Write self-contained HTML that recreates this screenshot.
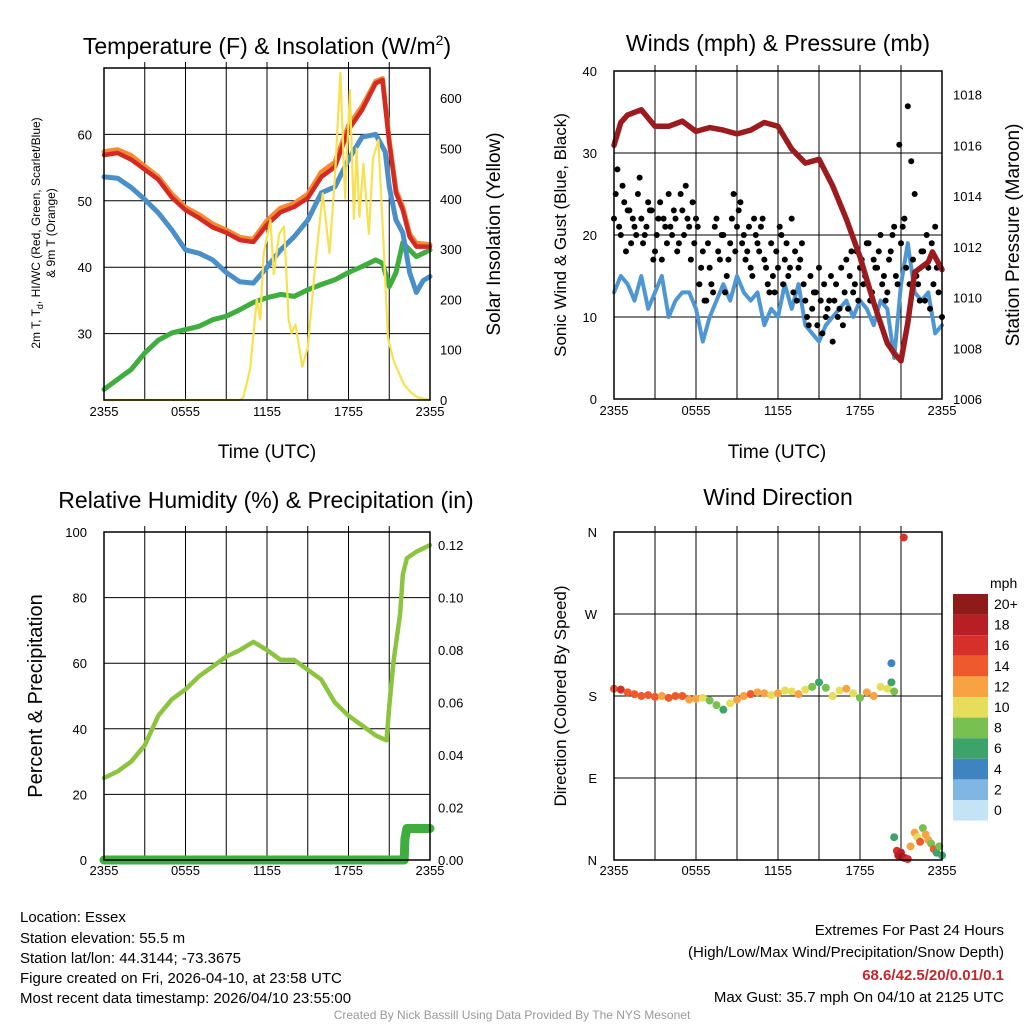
<!DOCTYPE html>
<html><head><meta charset="utf-8"><style>
body{margin:0;background:#fff;}
svg{display:block;font-family:"Liberation Sans",sans-serif;}
</style></head><body>
<svg id="svg" width="1024" height="1024" viewBox="0 0 1024 1024" xmlns="http://www.w3.org/2000/svg">
<g id="g"></g>
<text x="267" y="54" font-size="23" text-anchor="middle">Temperature (F) &amp; Insolation (W/m<tspan dy="-9" font-size="14">2</tspan><tspan dy="9">)</tspan></text>
<text x="778" y="51" font-size="23" text-anchor="middle">Winds (mph) &amp; Pressure (mb)</text>
<text x="266" y="508" font-size="23" text-anchor="middle">Relative Humidity (%) &amp; Precipitation (in)</text>
<text x="778" y="505" font-size="23" text-anchor="middle">Wind Direction</text>
<text transform="translate(40,233) rotate(-90)" font-size="12" text-anchor="middle">2m T, T<tspan font-size="9" dy="3">d</tspan><tspan dy="-3">, HI/WC (Red, Green, Scarlet/Blue)</tspan></text>
<text transform="translate(55,233) rotate(-90)" font-size="12" text-anchor="middle">&amp; 9m T (Orange)</text>
<text transform="translate(500,234) rotate(-90)" font-size="19" text-anchor="middle">Solar Insolation (Yellow)</text>
<text transform="translate(566,235) rotate(-90)" font-size="17" text-anchor="middle">Sonic Wind &amp; Gust (Blue, Black)</text>
<text transform="translate(1019,235) rotate(-90)" font-size="19" text-anchor="middle">Station Pressure (Maroon)</text>
<text transform="translate(42,696) rotate(-90)" font-size="20" text-anchor="middle">Percent &amp; Precipitation</text>
<text transform="translate(566,696) rotate(-90)" font-size="17" text-anchor="middle">Direction (Colored By Speed)</text>
<text x="267" y="458" font-size="19" text-anchor="middle">Time (UTC)</text>
<text x="777" y="458" font-size="19" text-anchor="middle">Time (UTC)</text>
<text x="990" y="588" font-size="14">mph</text>
<g font-size="15">
<text x="20" y="922">Location: Essex</text>
<text x="20" y="943">Station elevation: 55.5 m</text>
<text x="20" y="963">Station lat/lon: 44.3144; -73.3675</text>
<text x="20" y="983">Figure created on Fri, 2026-04-10, at 23:58 UTC</text>
<text x="20" y="1003">Most recent data timestamp: 2026/04/10 23:55:00</text>
</g>
<g font-size="15" text-anchor="end">
<text x="1004" y="935">Extremes For Past 24 Hours</text>
<text x="1004" y="957">(High/Low/Max Wind/Precipitation/Snow Depth)</text>
<text x="1004" y="980" fill="#c4282d" font-weight="bold">68.6/42.5/20/0.01/0.1</text>
<text x="1004" y="1002">Max Gust: 35.7 mph On 04/10 at 2125 UTC</text>
</g>
<text x="512" y="1019" font-size="12" fill="#999" text-anchor="middle">Created By Nick Bassill Using Data Provided By The NYS Mesonet</text>
</svg>
<script>
const xTickLabels=["2355","0555","1155","1755","2355"];
const tempHours=[0,1,2,3,4,5,6,7,8,9,10,11,12,13,14,15,16,17,18,19,20,20.5,21,21.5,22,22.5,23,24];
const tempRed=[56.9,57.2,56.2,54.7,53.2,50.5,48.6,47.4,46,45.2,44.1,43.8,46.4,48.3,49.1,50.4,53.6,55.1,60.7,63.7,67.7,68.2,58.7,51.2,48.6,44.6,43.1,43.1];
const tempOrange=[57.4,57.7,56.8,55.2,53.6,51,49,47.9,46.5,45.6,44.5,44.2,47,48.9,49.6,51,54.3,55.8,61.3,64.2,68,68.4,59,51.6,49,45,43.6,43.4];
const blueHours=[0,1,2,3,4,5,6,7,8,9,10,11,12,13,14,15,16,17,18,19,20,20.7,21,21.5,22,22.5,23,23.5,24];
const tempBlue=[53.6,53.4,52,50.2,48.2,45.6,42.6,42.1,41.1,39.2,37.8,37.6,40,42.6,44.6,47.1,51.2,52.1,56.2,59.6,60,57.4,52.1,47.1,45.2,39.2,36.2,38,38.6];
const greenHours=[0,1,2,3,4,5,6,7,8,9,10,11,12,13,14,15,16,17,18,19,20,20.5,21,21.5,22,22.5,23,24];
const tempGreen=[21.6,23.1,24.6,27.1,29,30.1,30.6,31.1,32.1,32.6,33.6,34.7,35.4,35.9,35.6,36.6,37.4,38.1,39.2,40.1,41.1,40.6,37.1,39.2,43.7,42.6,41.6,42.6];
const solarHours=[0,9.5,10,10.25,10.75,11.25,11.5,11.75,12.25,12.5,12.9,13.25,13.6,13.8,14.1,14.6,15,15.5,16.1,16.6,17,17.4,17.75,18.1,18.4,18.6,18.8,19.1,19.5,19.8,20.2,20.6,20.9,21.3,21.6,22.1,22.6,23.1,24];
const solarVals=[0,0,0,5,60,200,160,290,358,250,330,345,159,133,150,66,105,252,411,292,443,650,400,616,360,500,364,470,330,480,517,300,125,80,60,30,15,5,0];
const presHours=[0,0.5,1,2,3,4,5,6,7,8,9,10,11,12,13,14,15,16,17,18,19,20,20.5,21,21.5,22,23,23.3,24];
const presVals=[1016,1016.9,1017.2,1017.4,1016.75,1016.75,1016.95,1016.55,1016.7,1016.6,1016.45,1016.6,1016.9,1016.75,1015.85,1015.3,1015.45,1014.4,1013.1,1011.6,1009.8,1008.2,1007.8,1007.5,1009,1011,1011.4,1011.8,1011.1];
const windVals=[13,15,14,12,15,11,13,15,10,12,13,13,11,7,10,12,14,12,15,13,12,13,9,11,10,14,11,14,9,8,7,9,10,11,12,10,12,11,9,12,11,5,14,19,13,12,13,8,9];
const gustVals=[22,28,20,24,23,19,21,25,22,20,24,23,18,22,17,21,25,20,22,19,23,26,21,24,22,14,18,12,16,13,22,17,20,15,19,25,21,24,20,18,16,22,19,21,17,14,19,13,16,20,17,15,22,18,16,19,12,9,11,13,16,8,10,12,7,14,11,9,17,15,13,18,16,14,19,12,17,16,20,15,13,18,21,14,19,22,35.7,29,25,14,18,12,16,19,21,13,10];
const gustValsB=[25,21,26,18,23,22,20,27,19,21,23,17,20,24,22,19,21,23,18,25,20,22,17,19,21,16,12,19,14,21,18,20,13,17,22,18,23,19,17,21,15,20,18,22,16,13,15,18,21,14,19,16,13,12,17,14,10,15,13,9,12,14,11,15,12,10,16,13,11,18,14,12,17,15,19,13,16,18,14,12,17,20,15,31,21,16,14,17,15,12,18,20,11,14,16];
const rhHours=[0,1,2,3,4,5,6,7,8,9,10,11,12,13,14,15,16,17,18,19,20,20.5,20.8,21,21.3,21.8,22,22.3,23,24];
const rhVals=[25,27,30,35,44,49,52,56,59,62,64,66.5,64,61,61,58,55,48,44,41,38,37,36.5,47,60,75,87,92,94,96];
const precipHours=[0,22.1,22.15,22.3,24];
const precipVals=[0,0,0.008,0.012,0.012];
const dirHours=[0,0.5,1,1.5,2,2.5,3,3.5,4,4.5,5,5.5,6,6.5,7,7.5,8,8.5,9,9.5,10,10.5,11,11.5,12,12.5,13,13.5,14,14.5,15,15.5,16,16.5,17,17.5,18,18.5,19,19.5,20,20.5,20.3,20.3,21.2,20.5,20.7,20.8,21,21.1,21.3,21.5,21.7,22,22.2,22.4,22.6,22.8,23,23.2,23.4,23.6,23.8,24];
const dirDeg=[188,187,184,182,180,181,179,180,178,180,180,176,177,178,175,170,165,172,176,180,182,184,183,181,183,186,185,182,187,190,195,189,180,186,188,183,178,184,180,190,188,185,216,195,354,25,10,5,8,3,2,1,15,30,25,20,35,28,22,18,12,8,15,5];
const dirSpd=[15,16,15,14,14,15,14,13,15,14,14,13,12,11,9,8,7,10,12,13,14,13,12,11,12,10,11,12,11,8,7,9,10,11,12,11,9,12,13,11,10,9,5,6,17,7,16,18,19,20,18,16,12,12,10,14,9,13,12,8,15,7,9,6];
const legendLabels=["20+","18","16","14","12","10","8","6","4","2","0"];
const legendColors=["#8e1a1a","#b81f25","#d7302b","#ee5a2c","#f7a344","#e6de5a","#78c04f","#3da36a","#3f84c1","#7fb6e3","#c4e4f6"];

const NS="http://www.w3.org/2000/svg",G=document.getElementById('g');
function mk(t,a,p){const e=document.createElementNS(NS,t);for(const k in a)e.setAttribute(k,a[k]);(p||G).appendChild(e);return e;}
function lin(d0,d1,r0,r1){return v=>r0+(v-d0)/(d1-d0)*(r1-r0);}
function path(xs,ys,fx,fy){return xs.map((h,i)=>(i?'L':'M')+fx(h).toFixed(1)+' '+fy(ys[i]).toFixed(1)).join(' ');}
function frame(name,x0,x1,y0,y1,hg,yb){
  const g=mk('g',{});
  
  
  const fx=lin(0,24,x0,x1);
  for(let h=3;h<24;h+=3){const l=mk('line',{x1:fx(h),x2:fx(h),y1:y0-6,y2:y1,stroke:'#000','stroke-width':1},g);}
  hg.forEach(y=>{const l=mk('line',{x1:x0,x2:x1,y1:y,y2:y,stroke:'#000','stroke-width':1},g);});
  xTickLabels.forEach((t,i)=>{const e=mk('text',{x:fx(i*6),y:yb,'font-size':13,'text-anchor':'middle'},g);e.textContent=t;});
  return {g,fx};
}
function border(x0,x1,y0,y1){const r=mk('rect',{x:x0,y:y0,width:x1-x0,height:y1-y0,fill:'none',stroke:'#000','stroke-width':1.5});}
function ytick(x,y,t,anchor,name){const e=mk('text',{x,y:y+5,'font-size':13,'text-anchor':anchor});e.textContent=t;}
function line(d,c,w,name){const p=mk('path',{d,fill:'none',stroke:c,'stroke-width':w,'stroke-linejoin':'round','stroke-linecap':'round'});}

// Panel 1
{const x0=104,x1=430,y0=68,y1=400;const fy=lin(20,70,400,68),fs=lin(0,660,400,68);
 const f=frame('temp-panel',x0,x1,y0,y1,[30,40,50,60].map(fy),416);
 [30,40,50,60].forEach(v=>ytick(92,fy(v),v,'end','temp-y-tick'));
 [0,100,200,300,400,500,600].forEach(v=>{ytick(440,fs(v),v,'start','solar-y-tick');});
 line(path(greenHours,tempGreen,f.fx,fy),'#3fae3f',5,'dewpoint-line');
 line(path(blueHours,tempBlue,f.fx,fy),'#4a8fc8',5,'windchill-line');
 line(path(tempHours,tempOrange,f.fx,fy),'#f58a32',5,'temp-9m-line');
 line(path(tempHours,tempRed,f.fx,fy),'#d42a24',4.5,'temp-2m-line');
 line(path(solarHours,solarVals,f.fx,fs),'#f8e150',2.2,'solar-line');
 border(x0,x1,y0,y1);}
// Panel 2
{const x0=614,x1=942,y0=71,y1=399;const fy=lin(0,40,399,71),fp=lin(1006,1018.93,399,71);
 const f=frame('wind-panel',x0,x1,y0,y1,[10,20,30].map(fy),415);
 [0,10,20,30,40].forEach(v=>ytick(597,fy(v),v,'end','wind-y-tick'));
 [1006,1008,1010,1012,1014,1016,1018].forEach(v=>ytick(953,fp(v),v,'start','pressure-y-tick'));
 line(path(windVals.map((v,i)=>i*0.5),windVals,f.fx,fy),'#4f97d2',4,'wind-speed-line');
 gustVals.forEach((v,i)=>{const c=mk('circle',{cx:f.fx(i*0.25),cy:fy(v),r:3,fill:'#000'});});
 gustValsB.forEach((v,i)=>{const c=mk('circle',{cx:f.fx(i*0.25+0.125),cy:fy(v),r:3,fill:'#000'});});
 line(path(presHours,presVals,f.fx,fp),'#9b1b1e',5.5,'pressure-line');
 border(x0,x1,y0,y1);}
// Panel 3
{const x0=104,x1=430,y0=532,y1=860;const fy=lin(0,100,860,532),fp=lin(0,0.125,860,532);
 const f=frame('rh-panel',x0,x1,y0,y1,[20,40,60,80].map(fy),875);
 [0,20,40,60,80,100].forEach(v=>ytick(87,fy(v),v,'end','rh-y-tick'));
 [0,0.02,0.04,0.06,0.08,0.1,0.12].forEach(v=>ytick(438,fp(v),v.toFixed(2),'start','precip-y-tick'));
 line(path(rhHours,rhVals,f.fx,fy),'#8cc440',4.5,'rh-line');
 line(path(precipHours,precipVals,f.fx,fp),'#3fae3f',9,'precip-line');
 border(x0,x1,y0,y1);}
// Panel 4
{const x0=614,x1=942,y0=532,y1=860;const fy=lin(0,360,860,532);
 const f=frame('direction-panel',x0,x1,y0,y1,[90,180,270].map(fy),875);
 ['N','E','S','W','N'].forEach((t,i)=>ytick(597,fy(i*90),t,'end','direction-y-tick'));
 dirHours.forEach((h,i)=>{const k=Math.min(10,Math.floor(dirSpd[i]/2));const c=mk('circle',{cx:f.fx(h),cy:fy(dirDeg[i]),r:4,fill:legendColors[10-k]});});
 border(x0,x1,y0,y1);
 legendLabels.forEach((t,i)=>{const r=mk('rect',{x:953,y:594+i*20.6,width:35,height:20.6,fill:legendColors[i]});
  const e=mk('text',{x:994,y:594+i*20.6+15,'font-size':14});e.textContent=t;});}
</script>
</body></html>
